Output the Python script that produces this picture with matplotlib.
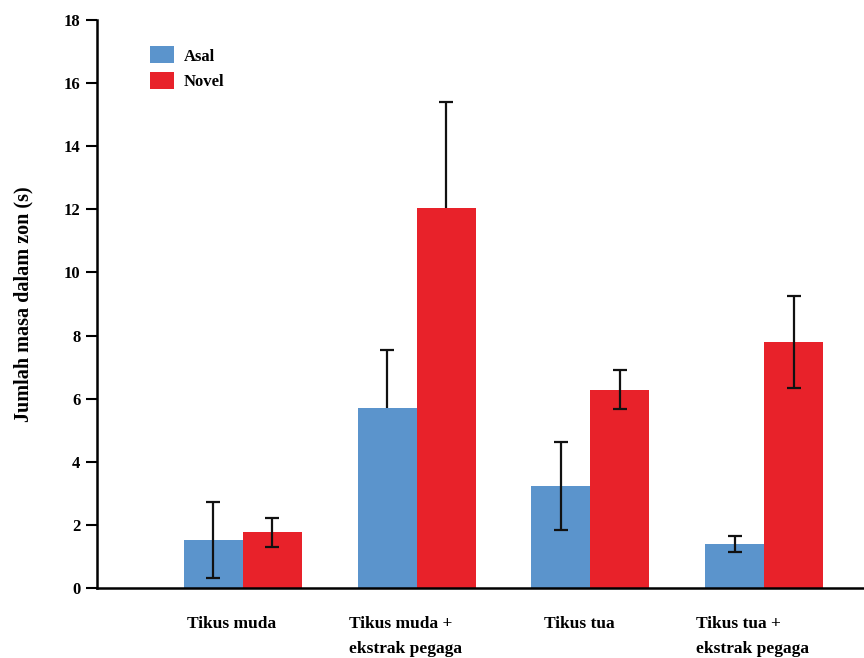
import matplotlib
matplotlib.use("Agg")
import matplotlib.pyplot as plt
import matplotlib.transforms as mtransforms
import numpy as np

categories = ["Tikus muda", "Tikus muda +\nekstrak pegaga", "Tikus tua", "Tikus tua +\nekstrak pegaga"]
series_names = ["Asal", "Novel"]
asal = [1.52, 5.70, 3.23, 1.39]
asal_err = [1.20, 1.84, 1.40, 0.25]
novel = [1.77, 12.05, 6.28, 7.80]
novel_err = [0.46, 3.35, 0.62, 1.45]
yticks = [0, 2, 4, 6, 8, 10, 12, 14, 16, 18]

blue = "#5b94cc"
red = "#e8222a"

plt.rcParams["font.family"] = ["Liberation Serif", "DejaVu Serif"]
plt.rcParams["font.weight"] = "bold"

fig = plt.figure(figsize=(8.64, 6.58), dpi=100)
ax = fig.add_axes([97 / 864, 70 / 658, 1 - 97 / 864, 568 / 658])

x = np.arange(len(categories))
w = 0.34
ax.bar(x - w / 2, asal, w, color=blue, label=series_names[0], zorder=2)
ax.bar(x + w / 2, novel, w, color=red, label=series_names[1], zorder=2)

ekw = dict(fmt="none", ecolor="#111111", elinewidth=1.6, capsize=5, capthick=1.6)
for i in range(len(categories)):
    # second group's lower whiskers sit behind the bars
    z = 1 if i == 1 else 3
    ax.errorbar(x[i] - w / 2, asal[i], yerr=asal_err[i], zorder=z, **ekw)
    ax.errorbar(x[i] + w / 2, novel[i], yerr=novel_err[i], zorder=z, **ekw)

ax.set_xlim(-0.84, 3.575)
ax.set_ylim(0, 18)
ax.set_yticks(yticks)
ax.set_yticklabels([str(t) for t in yticks], fontsize=12, fontweight="bold")
ax.set_xticks(x)
ax.set_xticklabels(categories, fontsize=12.5, fontweight="bold",
                   multialignment="left", linespacing=1.75)
ax.tick_params(axis="x", length=0, pad=20)
ax.tick_params(axis="y", length=8, width=1.5, direction="out", pad=4)

shift = mtransforms.ScaledTranslation(-8 / 72, 0, fig.dpi_scale_trans)
for lbl in ax.get_xticklabels():
    lbl.set_transform(lbl.get_transform() + shift)

for s in ["top", "right"]:
    ax.spines[s].set_visible(False)
ax.spines["left"].set_linewidth(1.8)
ax.spines["bottom"].set_linewidth(1.8)
ax.spines["left"].set_bounds(0, 18)

ax.set_ylabel("Jumlah masa dalam zon (s)", fontsize=14.5, fontweight="bold", labelpad=22)

ax.legend(loc="upper left", bbox_to_anchor=(0.05, 0.98), frameon=False,
          prop={"size": 12, "weight": "bold"}, handlelength=1.4, handleheight=1.2,
          labelspacing=0.45, handletextpad=0.6)

fig.savefig("out.png", dpi=100)
